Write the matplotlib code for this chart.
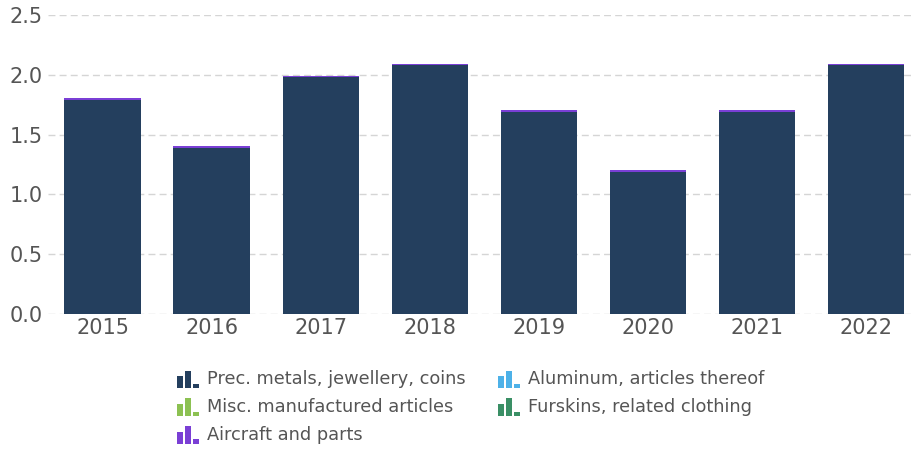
import matplotlib
matplotlib.use("Agg")
import matplotlib.pyplot as plt
from matplotlib.patches import Rectangle
from matplotlib.legend_handler import HandlerBase
import numpy as np

years = ["2015", "2016", "2017", "2018", "2019", "2020", "2021", "2022"]
prec_metals = [1.79, 1.39, 1.98, 2.08, 1.69, 1.19, 1.69, 2.08]
aluminum = [0, 0, 0, 0, 0, 0, 0, 0]
misc_manuf = [0, 0, 0, 0, 0, 0, 0, 0]
furskins = [0, 0, 0, 0, 0, 0, 0, 0]
aircraft = [0.012, 0.012, 0.012, 0.012, 0.012, 0.012, 0.012, 0.012]

series = [
    ("Prec. metals, jewellery, coins", prec_metals, "#243f5e"),
    ("Aluminum, articles thereof", aluminum, "#4db1e8"),
    ("Misc. manufactured articles", misc_manuf, "#8cc152"),
    ("Furskins, related clothing", furskins, "#3a8f65"),
    ("Aircraft and parts", aircraft, "#7a3fd5"),
]

fig = plt.figure(figsize=(9.13, 4.49), dpi=100)
ax = fig.add_axes([48 / 913, 1 - 314 / 449, 1 - 48 / 913, (314 - 15) / 449])

x = np.arange(len(years))
bottom = np.zeros(len(years))
handles = {}
for name, vals, col in series:
    h = ax.bar(x, vals, width=0.70, bottom=bottom, color=col, label=name, zorder=3)
    handles[name] = h
    bottom = bottom + np.array(vals)

ax.set_xlim(-0.5, 7.43)
ax.set_ylim(0, 2.5)
ax.set_yticks([0, 0.5, 1.0, 1.5, 2.0, 2.5])
ax.set_yticklabels(["0.0", "0.5", "1.0", "1.5", "2.0", "2.5"])
ax.set_xticks(x)
ax.set_xticklabels(years)
for s in ax.spines.values():
    s.set_visible(False)
ax.tick_params(axis="both", length=0, labelsize=15, labelcolor="#555555")
ax.tick_params(axis="y", pad=4)
ax.tick_params(axis="x", pad=3)
ax.yaxis.grid(True, color="#d5d5d5", linestyle=(0, (5, 3)), linewidth=1, zorder=0)
ax.set_axisbelow(True)


class BarIconHandler(HandlerBase):
    def create_artists(self, legend, orig_handle, xdescent, ydescent, width, height, fontsize, trans):
        col = orig_handle.patches[0].get_facecolor() if len(orig_handle.patches) else "k"
        bw = width * 0.27
        gap = width * 0.07
        heights = [0.8, 1.15, 0.3]
        arts = []
        for i, hh in enumerate(heights):
            r = Rectangle((xdescent + i * (bw + gap), -ydescent - 2), bw, height * hh,
                          facecolor=col, edgecolor="none", transform=trans)
            arts.append(r)
        return arts


order = ["Prec. metals, jewellery, coins", "Misc. manufactured articles", "Aircraft and parts",
         "Aluminum, articles thereof", "Furskins, related clothing"]
leg = fig.legend([handles[n] for n in order], order, ncol=2, loc="upper left",
                 bbox_to_anchor=(161 / 913, 1 - 354 / 449), frameon=False,
                 fontsize=12.8, handler_map={type(handles[order[0]]): BarIconHandler()},
                 handlelength=1.3, handleheight=0.95, handletextpad=0.4, columnspacing=1.8,
                 labelspacing=0.55)
for t in leg.get_texts():
    t.set_color("#555555")

fig.savefig("out.png", dpi=100)
